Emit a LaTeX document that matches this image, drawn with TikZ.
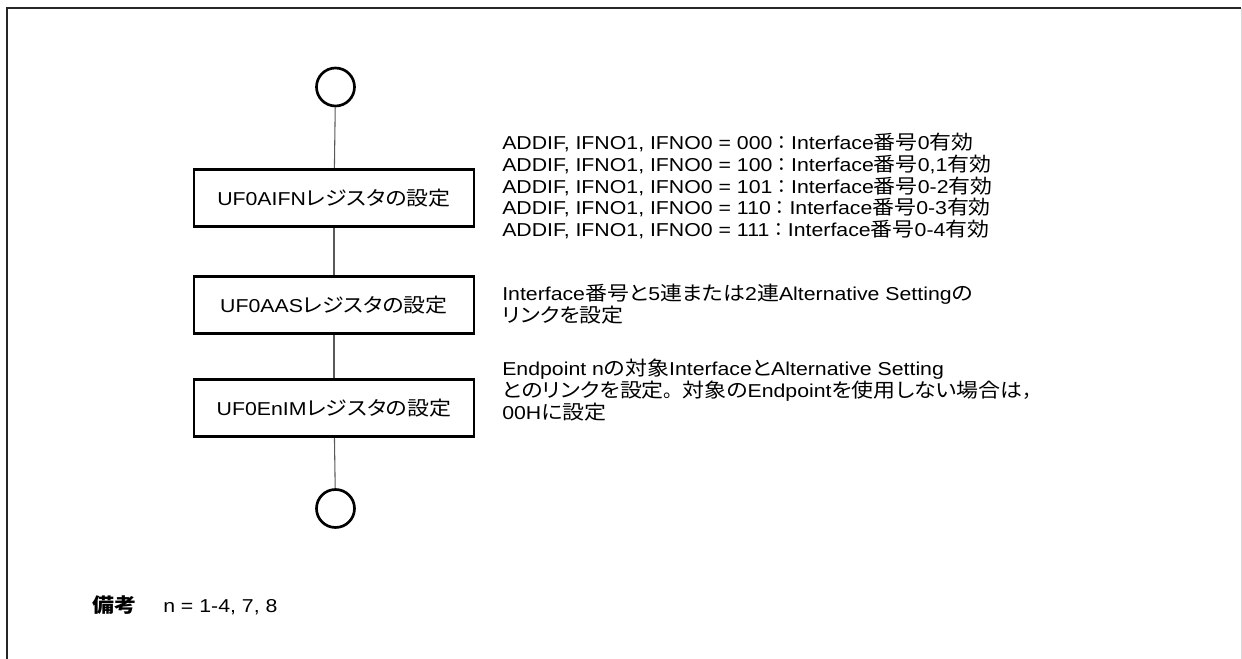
\documentclass[tikz,border=0pt]{standalone}
\usepackage{fontspec}
\setmainfont{Liberation Sans}[FakeStretch=1.14]
\newfontfamily\jp{Noto Sans CJK JP}[FakeStretch=1.12,Scale=1.05,RawFeature={+palt}]
\newfontfamily\jpw{Noto Sans CJK JP}[FakeStretch=1.0,Scale=1.0]
\newcommand\J[1]{{\jp #1}}
\newcommand\W[1]{{\jpw #1}}
\begin{document}
\begin{tikzpicture}[x=0.75pt,y=-0.75pt,
  every node/.style={font=\fontsize{14pt}{16pt}\selectfont},
  stepbox/.style={draw,line width=2.2pt,minimum width=210pt,minimum height=43pt,inner sep=0pt},
  term/.style={draw,circle,line width=2pt,minimum size=28.5pt,inner sep=0pt},
  link/.style={draw=black!65,line width=0.8pt},
  note/.style={anchor=base west,inner sep=0pt,text height=11.5pt,text depth=3.5pt},
  frame/.style={line width=1.5pt,draw=black!85}]
\useasboundingbox (0,0) rectangle (1242,659);
\draw[frame] (7,659) -- (7,8) -- (1241,8);
\draw[draw=black!15,line width=0.75pt] (1241,8) -- (1241,659);

\node[term] (start) at (335.5,87) {};
\node[stepbox] (b1) at (334,198) {UF0AIFN\J{レジスタの設定}};
\node[stepbox] (b2) at (334,305) {UF0AAS\J{レジスタの設定}};
\node[stepbox] (b3) at (334,408) {UF0EnIM\J{レジスタの設定}};
\node[term] (stop) at (335.5,508.5) {};

\draw[link] (start) -- (b1);
\draw[link] (b1) -- (b2);
\draw[link] (b2) -- (b3);
\draw[link] (b3) -- (stop);

\node[note] (t1) at (502,150) {ADDIF, IFNO1, IFNO0 = 000\W{：}Interface\J{番号}0\J{有効}};
\node[note] (t2) at (502,171.6) {ADDIF, IFNO1, IFNO0 = 100\W{：}Interface\J{番号}0,1\J{有効}};
\node[note] (t3) at (502,193.2) {ADDIF, IFNO1, IFNO0 = 101\W{：}Interface\J{番号}0-2\J{有効}};
\node[note] (t4) at (502,214.8) {ADDIF, IFNO1, IFNO0 = 110\W{：}Interface\J{番号}0-3\J{有効}};
\node[note] (t5) at (502,236.4) {ADDIF, IFNO1, IFNO0 = 111\W{：}Interface\J{番号}0-4\J{有効}};

\node[note] (a1) at (502,300.5) {Interface\J{番号と}5\J{連または}2\J{連}Alternative Setting\J{の}};
\node[note] (a2) at (502,322.5) {\J{リンクを設定}};

\node[note] (e1) at (502,375) {Endpoint n\J{の対象}Interface\J{と}Alternative Setting};
\node[note] (e2) at (502,397) {\J{とのリンクを設定}\W{。}\J{対象の}Endpoint\J{を使用しない場合は}\W{，}};
\node[note] (e3) at (502,419) {00H\J{に設定}};

\node[note] (rk) at (92,612) {{\jp\bfseries 備考}};
\node[note] (rn) at (163,612) {n = 1-4, 7, 8};
\end{tikzpicture}
\end{document}
